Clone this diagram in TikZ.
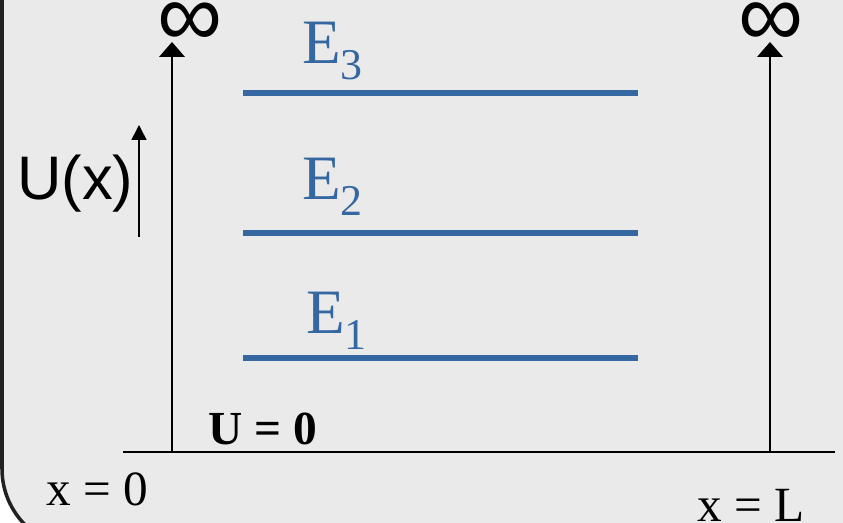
\documentclass[tikz,border=0pt]{standalone}
\usepackage{fontspec}
\setmainfont{Liberation Serif}
\setsansfont{Liberation Sans}
\usepackage{xcolor}
\usetikzlibrary{arrows.meta,positioning}
\definecolor{panelbg}{HTML}{EAEAEA}
\definecolor{panelrim}{HTML}{222222}
\definecolor{levelblue}{HTML}{3567A0}
\tikzset{
  wall/.style={draw=black,line width=1.2pt,-{Triangle[width=14.5pt,length=8.5pt]}},
  uaxis/.style={draw=black,line width=0.9pt,-{Triangle[width=8.5pt,length=8.5pt]}},
  level/.style={levelblue,line width=3pt},
  elabel/.style={levelblue,inner sep=0pt,anchor=base west,font=\fontsize{36pt}{40pt}\selectfont},
  txtlabel/.style={inner sep=0pt,anchor=base west,font=\fontsize{27pt}{30pt}\selectfont},
  inflabel/.style={inner sep=0pt,font=\sffamily\fontsize{52pt}{54pt}\selectfont}
}
\newcommand{\lvl}[2]{E\raisebox{-0.25em}{\fontsize{25pt}{25pt}\selectfont #2}}
\begin{document}
\begin{tikzpicture}[x=0.02cm,y=-0.02cm,>=Stealth]
  \useasboundingbox (0,0) rectangle (843,523);
  \fill[white] (0,0) rectangle (843,523);
  \clip (0,0) rectangle (843,523);
  \draw[panelrim,fill=panelbg,line width=2pt,rounded corners=45] (2,-100) rectangle (900,548);

  \coordinate (baseL) at (123,452);
  \coordinate (baseR) at (835,452);
  \coordinate (wallL) at (172,452);
  \coordinate (wallR) at (770,452);
  \coordinate (topL) at (172,42);
  \coordinate (topR) at (770,42);
  \draw[line width=1.3pt] (baseL) -- (baseR);
  \draw[wall] (wallL) -- (topL);
  \draw[wall] (wallR) -- (topR);
  \node[inflabel] (infL) at (190,25) {∞};
  \node[inflabel] (infR) at (771,25) {∞};

  \coordinate (uBot) at (139,237);
  \coordinate (uTop) at (139,125);
  \draw[uaxis] (uBot) -- (uTop);
  \node[inner sep=0pt,anchor=base west,font=\sffamily\fontsize{35pt}{38pt}\selectfont] (ulabel) at (17,200) {U(x)};

  \draw[level] (243,93) -- (638,93);
  \draw[level] (243,233) -- (638,233);
  \draw[level] (243,358) -- (638,358);
  \node[elabel] (E3) at (302,64) {\lvl{E}{3}};
  \node[elabel] (E2) at (302,200) {\lvl{E}{2}};
  \node[elabel] (E1) at (306,334) {\lvl{E}{1}};

  \node[txtlabel,font=\bfseries\fontsize{27pt}{30pt}\selectfont] (uzero) at (208,445) {U = 0};
  \node[txtlabel,font=\fontsize{28pt}{30pt}\selectfont] (xzero) at (46,506) {x = 0};
  \node[txtlabel,font=\fontsize{28pt}{30pt}\selectfont] (xL) at (697,522) {x = L};
\end{tikzpicture}
\end{document}
